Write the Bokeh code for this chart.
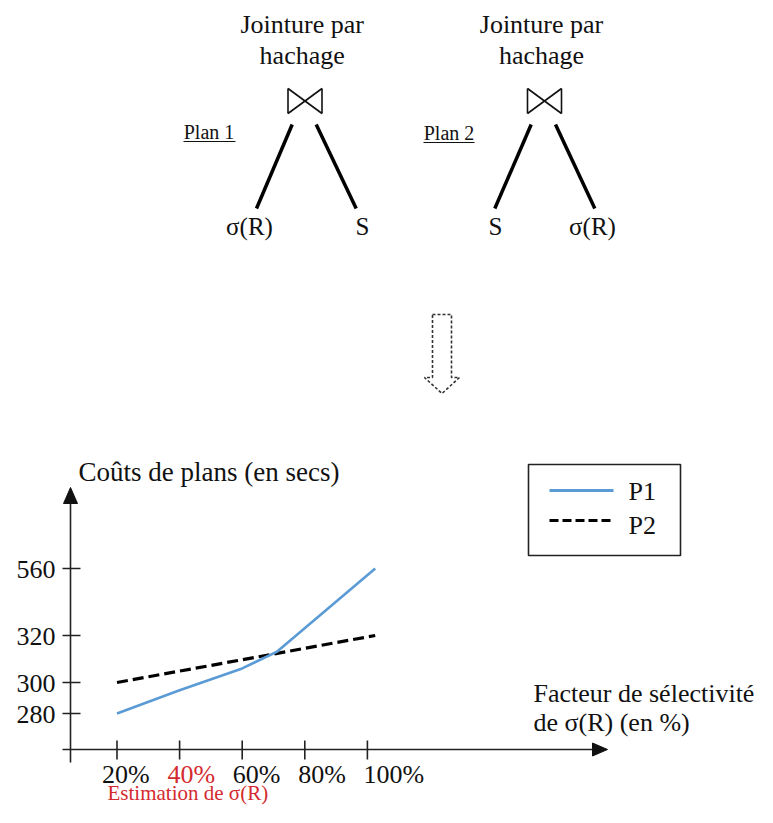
import numpy as np
from bokeh.plotting import figure
from bokeh.models import Range1d
from bokeh.core.properties import value
from bokeh.embed import file_html
from bokeh.resources import INLINE

# ---------------- data ----------------
pct_ticks = [20, 40, 60, 80, 100]
pct_labels = ["20%", "40%", "60%", "80%", "100%"]
cost_ticks = [280, 300, 320, 560]
cost_labels = ["280", "300", "320", "560"]
p1_pct = [20, 40, 60, 71, 102.5]
p1_cost = [280, 295, 306, 313, 560]
p2_pct = [20, 102.5]
p2_cost = [300, 320]
series_names = ["P1", "P2"]

# ---------------- layout (page pixels) ----------------
X0, XS = 116.5, 3.13                 # x position of 20 %, pixels per %
COST_PX = [713, 682, 635, 568]       # rows of the cost ticks (axis drawn not to scale)
LAB0, LABS = 101.5, 3.27             # tick-label row start and spacing per %
FONT = value("Liberation Serif")
BLUE = "#5b9bd5"
RED = "#d42a2f"
INK = "#111111"


def xpx(v):
    return X0 + (np.asarray(v, dtype=float) - 20.0) * XS


def ypx(v):
    return np.interp(np.asarray(v, dtype=float), cost_ticks, COST_PX)


p = figure(width=757, height=807, x_range=Range1d(0, 757), y_range=Range1d(807, 0),
           x_axis_type=None, y_axis_type=None, toolbar_location=None,
           output_backend="svg", min_border=0, outline_line_color=None)
p.grid.visible = False


def txt(x, y, s, size=26, align="left", color=INK):
    # y is the wanted baseline; compensate the renderer's baseline offset
    p.text(x=[x], y=[y - 0.3 * size], text=[s], text_font=FONT,
           text_font_size=value(f"{size}px"), text_align=align,
           text_baseline="alphabetic", text_color=color)


# ---------------- join plans ----------------
for cx, bx0, bx1 in [(301.7, 287.5, 321.5), (541.0, 527.0, 561.0)]:
    txt(cx, 31.5, "Jointure par", align="center")
    txt(cx, 63, "hachage", align="center")
    p.segment(x0=[bx0, bx1, bx0, bx0], y0=[88, 88, 88, 113],
              x1=[bx0, bx1, bx1, bx1], y1=[113, 113, 113, 88],
              line_width=1.6, line_color=INK)

p.segment(x0=[291.7, 315.7, 530.7, 555.0], y0=[124] * 4,
          x1=[256.0, 355.7, 494.3, 594.3], y1=[208] * 4,
          line_width=3.5, line_color="black")

txt(208.5, 137, "Plan 1", size=20, align="center")
txt(448.5, 138, "Plan 2", size=20, align="center")
p.segment(x0=[183, 423], y0=[141, 142], x1=[235, 474], y1=[141, 142],
          line_width=1.2, line_color=INK)

txt(249, 233, "σ(R)", size=25, align="center")
txt(362, 233, "S", size=25, align="center")
txt(495, 233, "S", size=25, align="center")
txt(592, 233, "σ(R)", size=25, align="center")

# ---------------- dashed down arrow ----------------
p.patch(x=[432, 451, 451, 459, 441.5, 424, 432, 432],
        y=[314, 314, 377, 377, 393, 377, 377, 314],
        fill_color=None, line_color="#333333", line_width=1.6, line_dash="3 2")

# ---------------- chart axes ----------------
p.segment(x0=[70, 62], y0=[762, 749], x1=[70, 595], y1=[500, 749],
          line_width=1.6, line_color="#222222")
p.patches(xs=[[63, 77, 70], [592, 592, 607]], ys=[[503, 503, 487], [742.5, 755.5, 749]],
          fill_color="#111111", line_color="#111111", line_width=1)

tx = xpx(pct_ticks)
p.segment(x0=tx, y0=[740] * len(tx), x1=tx, y1=[759] * len(tx),
          line_width=1.6, line_color="#222222")
ty = ypx(cost_ticks)
p.segment(x0=[62] * len(ty), y0=ty, x1=[80] * len(ty), y1=ty,
          line_width=1.6, line_color="#222222")

for v, lab in zip(pct_ticks, pct_labels):
    txt(LAB0 + (v - 20) * LABS, 782, lab, color=RED if lab == "40%" else INK)
for yy, lab in zip(ty, cost_labels):
    txt(55, yy + 9, lab, align="right")

txt(78, 480, "Coûts de plans (en secs)", size=27)
txt(533, 701, "Facteur de sélectivité")
txt(533, 730, "de σ(R) (en %)")
txt(107, 799, "Estimation de σ(R)", size=21, color=RED)

# ---------------- series ----------------
p.line(xpx(p2_pct), ypx(p2_cost), line_color="black", line_width=3.2, line_dash="11 5")
p.line(xpx(p1_pct), ypx(p1_cost), line_color=BLUE, line_width=2.6)

# ---------------- legend box ----------------
p.quad(left=[528], right=[680], top=[464], bottom=[555],
       fill_color=None, line_color="#222222", line_width=1.6)
p.segment(x0=[549], y0=[490], x1=[613], y1=[490], line_color=BLUE, line_width=3)
p.segment(x0=[549], y0=[520], x1=[613], y1=[520], line_color="black",
          line_width=3, line_dash="9 4")
txt(628, 499, series_names[0])
txt(628, 533, series_names[1])

open("out.html", "w").write(file_html(p, INLINE))
